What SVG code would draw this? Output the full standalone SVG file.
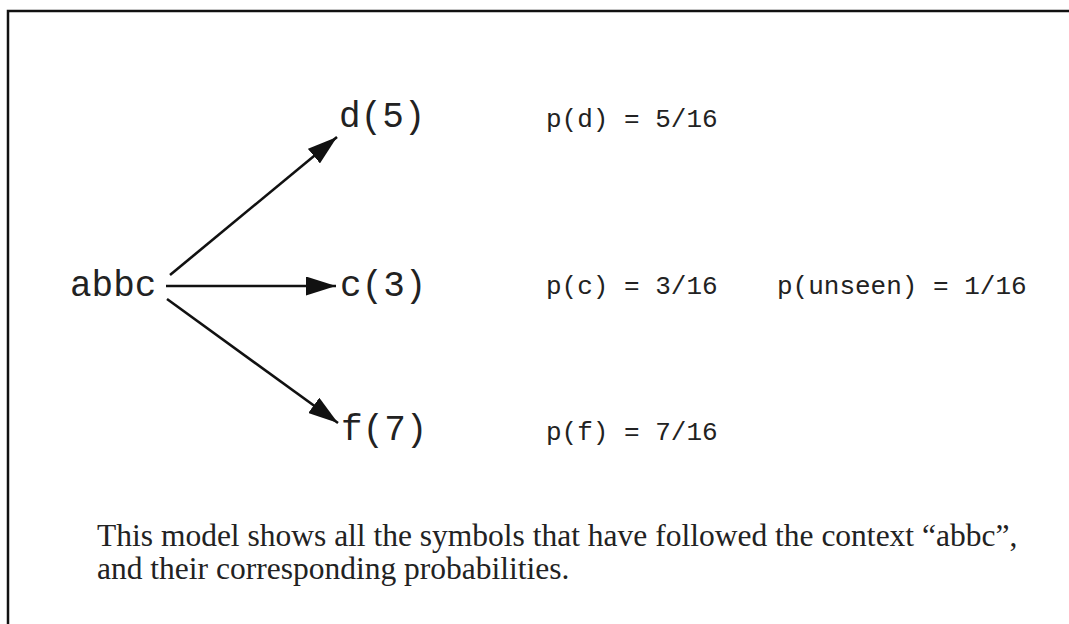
<svg xmlns="http://www.w3.org/2000/svg" width="1069" height="624" viewBox="0 0 1069 624">
<style>
.mono{font-family:"Liberation Mono","Courier New",monospace;fill:#222}
.big{font-size:36px}
.small{font-size:26px}
.cap{font-family:"Liberation Serif","Times New Roman",serif;font-size:31.5px;fill:#222}
.edge{stroke:#111;stroke-width:2.6;fill:none}
</style>
<defs>
<marker id="ah" viewBox="0 0 30 19" refX="30" refY="9.5" markerWidth="30" markerHeight="19" markerUnits="userSpaceOnUse" orient="auto">
<path d="M0,0 L30,9.5 L0,19 Z" fill="#111"/>
</marker>
</defs>
<rect width="1069" height="624" fill="#fff"/>
<path d="M8,630 V11 H1075" fill="none" stroke="#111" stroke-width="2.5"/>
<g id="connectors">
<line class="edge" x1="170" y1="275" x2="337" y2="137" marker-end="url(#ah)"/>
<line class="edge" x1="166" y1="286" x2="336" y2="286" marker-end="url(#ah)"/>
<line class="edge" x1="167" y1="299" x2="338" y2="423" marker-end="url(#ah)"/>
</g>
<g id="node-abbc"><text class="mono big" x="70" y="296">abbc</text></g>
<g id="node-d"><text class="mono big" x="339" y="127">d(5)</text></g>
<g id="node-c"><text class="mono big" x="340" y="296">c(3)</text></g>
<g id="node-f"><text class="mono big" x="341" y="440">f(7)</text></g>
<g id="prob-d"><text class="mono small" x="546" y="127">p(d) = 5/16</text></g>
<g id="prob-c"><text class="mono small" x="546" y="294">p(c) = 3/16</text></g>
<g id="prob-unseen"><text class="mono small" x="777" y="294">p(unseen) = 1/16</text></g>
<g id="prob-f"><text class="mono small" x="546" y="440">p(f) = 7/16</text></g>
<g id="caption">
<text class="cap" x="97" y="546">This model shows all the symbols that have followed the context “abbc”,</text>
<text class="cap" x="97" y="579">and their corresponding probabilities.</text>
</g>
</svg>
